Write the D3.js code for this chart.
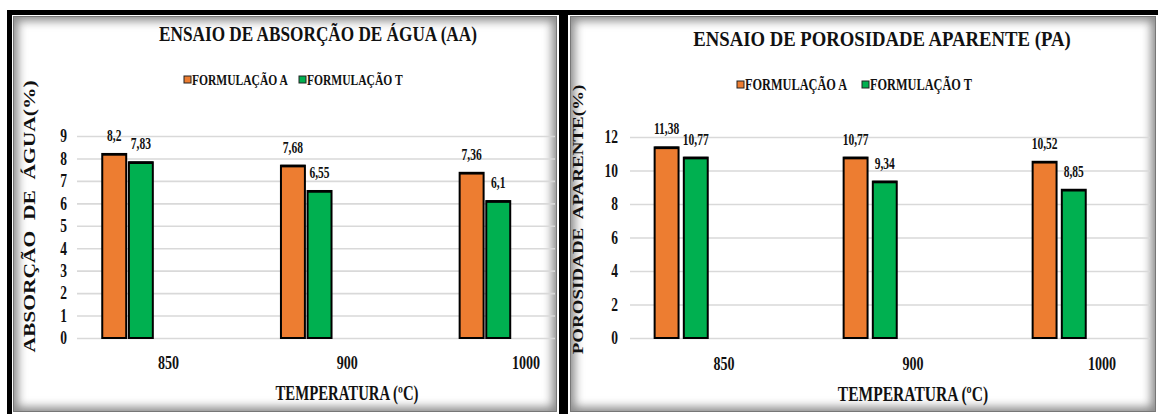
<!DOCTYPE html>
<html>
<head>
<meta charset="utf-8">
<script src="https://cdn.jsdelivr.net/npm/d3@7"></script>
<style>
  html, body { margin: 0; padding: 0; background: #fff; }
  svg { display: block; }
  text { font-family: "Liberation Serif", "Times New Roman", serif; font-weight: bold; fill: #111; }
</style>
</head>
<body>
<svg id="chart" width="1158" height="414"></svg>
<script>
// Temperatures (categories) and the two formulations
const categories = ["850", "900", "1000"];
const seriesNames = ["FORMULAÇÃO A", "FORMULAÇÃO T"];
const seriesColors = ["#ED7D31", "#00B050"];

// Water absorption test (AA), %
const absorcaoA = [8.2, 7.68, 7.36];
const absorcaoT = [7.83, 6.55, 6.1];
const absorcaoTicks = [0, 1, 2, 3, 4, 5, 6, 7, 8, 9];

// Apparent porosity test (PA), %
const porosidadeA = [11.38, 10.77, 10.52];
const porosidadeT = [10.77, 9.34, 8.85];
const porosidadeTicks = [0, 2, 4, 6, 8, 10, 12];

const svg = d3.select("#chart");
const defs = svg.append("defs");
defs.append("filter").attr("id", "soft").attr("x", "-10%").attr("y", "-10%")
  .attr("width", "120%").attr("height", "120%")
  .append("feGaussianBlur").attr("stdDeviation", 5);

const fmt = v => String(v).replace(".", ",");

// Text helper: compressed serif lettering
function label(g, x, y, str, o) {
  const sx = o.sx ?? 1, sy = o.sy ?? 1, rot = o.rotate ?? 0;
  return g.append("text")
    .attr("transform", `translate(${x},${y}) rotate(${rot}) scale(${sx},${sy})`)
    .attr("text-anchor", o.anchor ?? "middle")
    .attr("font-size", o.size)
    .attr("dy", o.dy ?? null)
    .style("white-space", "pre")
    .text(str);
}

// Black frame around the two panels
svg.append("rect").attr("x", 7).attr("y", 10).attr("width", 1151).attr("height", 5).attr("fill", "#000");
svg.append("rect").attr("x", 7).attr("y", 10).attr("width", 5).attr("height", 404).attr("fill", "#000");
svg.append("rect").attr("x", 559).attr("y", 10).attr("width", 9).attr("height", 404).attr("fill", "#000");

function drawPanel(cfg) {
  const g = svg.append("g");
  const [px0, py0, px1, py1] = cfg.panel;
  const clipId = "clip-" + cfg.id;
  defs.append("clipPath").attr("id", clipId)
    .append("rect").attr("x", px0).attr("y", py0).attr("width", px1 - px0).attr("height", py1 - py0);

  // panel background with soft inner shading
  g.append("rect").attr("x", px0).attr("y", py0).attr("width", px1 - px0).attr("height", py1 - py0).attr("fill", "#fff");
  g.append("g").attr("clip-path", `url(#${clipId})`)
    .append("rect").attr("x", px0 - 2).attr("y", py0 - 2).attr("width", px1 - px0 + 4).attr("height", py1 - py0 + 4)
    .attr("fill", "none").attr("stroke", "#8a8a8a").attr("stroke-width", 14).attr("filter", "url(#soft)");
  g.append("rect").attr("x", px0 + 0.5).attr("y", py0 + 0.5).attr("width", px1 - px0 - 1).attr("height", py1 - py0 - 1)
    .attr("fill", "none").attr("stroke", "#777").attr("stroke-width", 1);

  // scales
  const y = d3.scaleLinear().domain([0, cfg.yMax]).range([cfg.yBase, cfg.yTop]);
  const x0 = d3.scaleBand().domain(categories).range(cfg.bandRange);
  const bw = x0.bandwidth();
  const x1 = d3.scaleBand().domain(seriesNames)
    .range([cfg.barSpan[0] * bw, cfg.barSpan[1] * bw]).paddingInner(cfg.barPad);

  // gridlines
  const grid = d3.axisLeft(y).tickValues(cfg.ticks).tickFormat("").tickSize(-(cfg.plotRight - cfg.plotLeft));
  const gg = g.append("g").attr("transform", `translate(${cfg.plotLeft},0)`).call(grid);
  gg.select(".domain").remove();
  gg.selectAll(".tick line").attr("stroke", "#d9d9d9").attr("stroke-width", 1.6);

  // tick labels
  cfg.ticks.forEach(t => label(g, cfg.tickX, y(t), String(t), { size: cfg.tickSize, sx: 0.75, anchor: "end", dy: "0.35em" }));

  // bars and value labels
  const rows = categories.map((c, i) => ({ cat: c, vals: [cfg.seriesA[i], cfg.seriesT[i]] }));
  rows.forEach(r => {
    r.vals.forEach((v, k) => {
      const s = seriesNames[k];
      const bx = x0(r.cat) + x1(s);
      g.append("rect")
        .attr("x", bx).attr("y", y(v))
        .attr("width", x1.bandwidth()).attr("height", y(0) - y(v))
        .attr("fill", seriesColors[k]).attr("stroke", "#000").attr("stroke-width", 2);
      g.append("line")
        .attr("x1", bx).attr("x2", bx + x1.bandwidth())
        .attr("y1", y(v) + 0.5).attr("y2", y(v) + 0.5)
        .attr("stroke", "#000").attr("stroke-width", 2.5);
      label(g, bx + x1.bandwidth() / 2, y(v) - 13, fmt(v), { size: cfg.valueSize, sx: 0.72 });
    });
  });

  // category labels
  categories.forEach(c => label(g, x0(c) + bw / 2, cfg.catY, c, { size: 19, sx: 0.74 }));

  // titles
  label(g, cfg.titleX, cfg.titleY, cfg.title, { size: cfg.titleSize, sx: cfg.titleSx });
  label(g, cfg.xTitleX, cfg.xTitleY, "TEMPERATURA (ºC)", { size: cfg.xTitleSize, sx: 0.74 });
  label(g, cfg.yTitleX, cfg.yTitleY, cfg.yTitle, { size: cfg.yTitleSize, sy: 0.8, rotate: -90, dy: "0.35em" });

  // legend
  seriesNames.forEach((s, k) => {
    const lx = cfg.legendX[k];
    g.append("rect").attr("x", lx).attr("y", cfg.legendY - 4).attr("width", 7).attr("height", 7)
      .attr("fill", seriesColors[k]).attr("stroke", "#222").attr("stroke-width", 1);
    label(g, lx + 8, cfg.legendY + 5, s, { size: cfg.legendSize, sx: 0.77, anchor: "start" });
  });
}

drawPanel({
  id: "aa",
  panel: [13, 16, 557, 412],
  title: "ENSAIO DE ABSORÇÃO DE ÁGUA (AA)", titleX: 318, titleY: 41, titleSize: 21, titleSx: 0.82,
  legendX: [184, 299], legendY: 80, legendSize: 15,
  seriesA: absorcaoA, seriesT: absorcaoT,
  ticks: absorcaoTicks, yMax: 9, yBase: 338, yTop: 136,
  plotLeft: 77, plotRight: 555, tickX: 67, tickSize: 18,
  bandRange: [79.2, 615.3], barSpan: [0.129, 0.412], barPad: 0.1,
  valueSize: 16, catY: 369,
  xTitleX: 347, xTitleY: 400, xTitleSize: 20,
  yTitle: "ABSORÇÃO  DE  ÁGUA(%)", yTitleX: 29, yTitleY: 216.5, yTitleSize: 21.5
});

drawPanel({
  id: "pa",
  panel: [570, 16, 1156, 412],
  title: "ENSAIO DE POROSIDADE APARENTE (PA)", titleX: 882, titleY: 46, titleSize: 22, titleSx: 0.85,
  legendX: [737, 862], legendY: 85, legendSize: 16,
  seriesA: porosidadeA, seriesT: porosidadeT,
  ticks: porosidadeTicks, yMax: 12, yBase: 338, yTop: 137,
  plotLeft: 630, plotRight: 1150, tickX: 618, tickSize: 18,
  bandRange: [629.5, 1196.5], barSpan: [0.133, 0.414], barPad: 0.18,
  valueSize: 16, catY: 370,
  xTitleX: 913, xTitleY: 401, xTitleSize: 21,
  yTitle: "POROSIDADE  APARENTE(%)", yTitleX: 578, yTitleY: 219.5, yTitleSize: 19
});
</script>
</body>
</html>
